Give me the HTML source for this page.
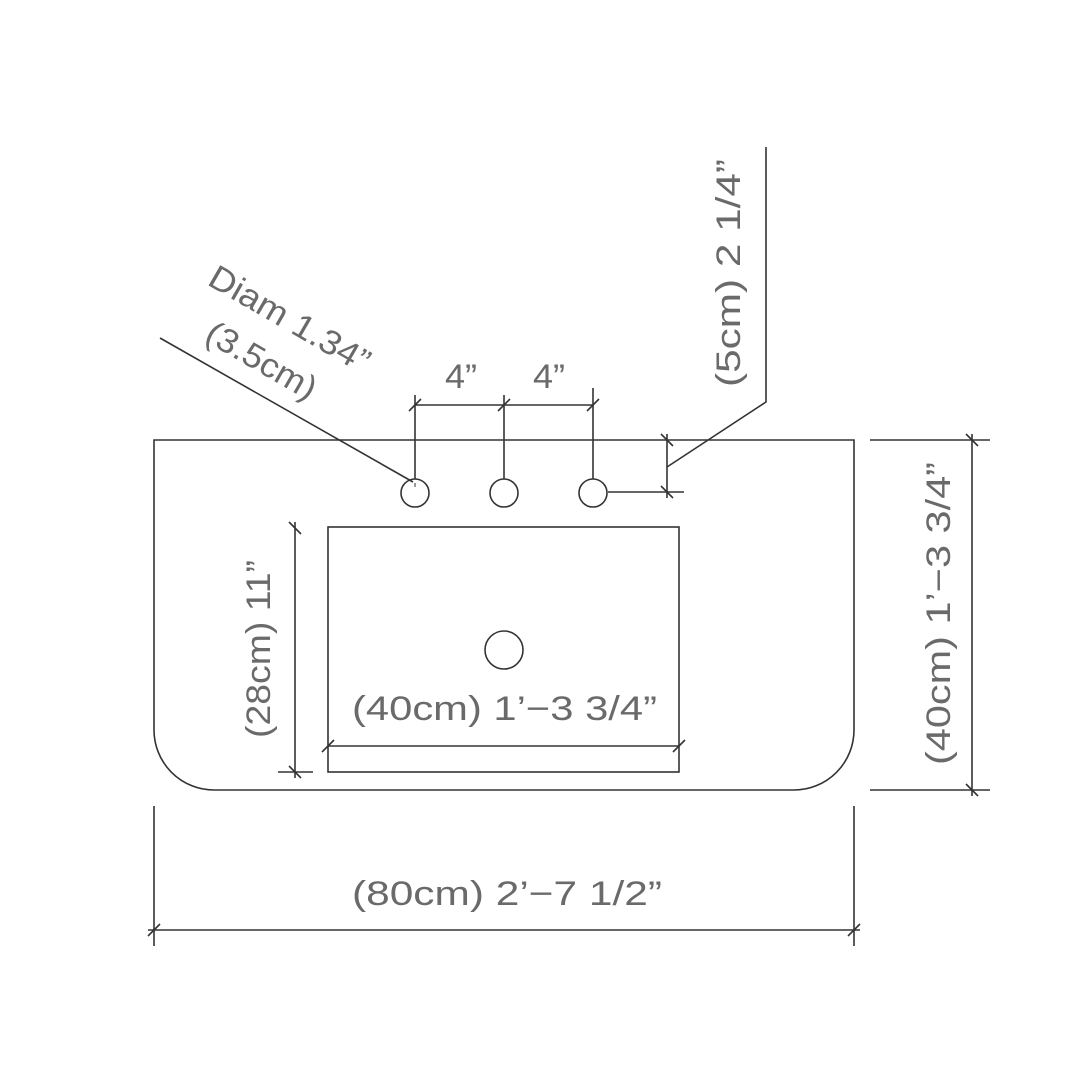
<!DOCTYPE html>
<html><head><meta charset="utf-8"><style>
html,body{margin:0;padding:0;background:#fff;}
svg{display:block}
text{font-family:"Liberation Sans",sans-serif;font-size:34px;fill:#6a6a6a;font-weight:normal;}
</style></head><body>
<svg width="1080" height="1080" viewBox="0 0 1080 1080" xmlns="http://www.w3.org/2000/svg">
<g stroke="#333" stroke-width="1.6" fill="none">
<path d="M154 440 H854 V730 A60 60 0 0 1 794 790 H214 A60 60 0 0 1 154 730 Z"/>
<circle cx="415" cy="493" r="14"/>
<circle cx="504" cy="493" r="14"/>
<circle cx="593" cy="493" r="14"/>
<rect x="328" y="527" width="351" height="245"/>
<circle cx="504" cy="650" r="19"/>
<line x1="328" y1="746" x2="679" y2="746"/>
<line x1="322" y1="752" x2="334" y2="740"/>
<line x1="673" y1="752" x2="685" y2="740"/>
<line x1="295" y1="522" x2="295" y2="778"/>
<line x1="278" y1="772" x2="313" y2="772"/>
<line x1="289" y1="766" x2="301" y2="778"/>
<line x1="289" y1="522" x2="301" y2="534"/>
<line x1="870" y1="440" x2="990" y2="440"/>
<line x1="870" y1="790" x2="990" y2="790"/>
<line x1="972" y1="434" x2="972" y2="796"/>
<line x1="966" y1="434" x2="978" y2="446"/>
<line x1="966" y1="784" x2="978" y2="796"/>
<line x1="154" y1="806" x2="154" y2="946"/>
<line x1="854" y1="806" x2="854" y2="946"/>
<line x1="148" y1="930" x2="860" y2="930"/>
<line x1="148" y1="936" x2="160" y2="924"/>
<line x1="848" y1="936" x2="860" y2="924"/>
<line x1="415" y1="479" x2="415" y2="395"/>
<line x1="504" y1="479" x2="504" y2="395"/>
<line x1="593" y1="479" x2="593" y2="388"/>
<line x1="415" y1="405" x2="593" y2="405"/>
<line x1="409" y1="411" x2="421" y2="399"/>
<line x1="498" y1="411" x2="510" y2="399"/>
<line x1="587" y1="411" x2="599" y2="399"/>
<line x1="608" y1="492" x2="684" y2="492"/>
<line x1="667" y1="434" x2="667" y2="498"/>
<line x1="661" y1="434" x2="673" y2="446"/>
<line x1="661" y1="486" x2="673" y2="498"/>
<polyline points="667,467 766,402 766,147"/>
<line x1="160" y1="338" x2="413" y2="482"/>
<line x1="415" y1="483" x2="415" y2="487" stroke-width="1"/>
</g>
<text x="352" y="720" textLength="305" lengthAdjust="spacingAndGlyphs">(40cm) 1’−3 3/4”</text>
<text x="352" y="905" textLength="310" lengthAdjust="spacingAndGlyphs" font-size="38">(80cm) 2’−7 1/2”</text>
<text x="445" y="388" textLength="32" lengthAdjust="spacingAndGlyphs">4”</text>
<text x="533" y="388" textLength="32" lengthAdjust="spacingAndGlyphs">4”</text>
<text transform="translate(270,738) rotate(-90)" textLength="178" lengthAdjust="spacingAndGlyphs" x="0" y="0">(28cm) 11”</text>
<text transform="translate(950,765) rotate(-90)" textLength="303" lengthAdjust="spacingAndGlyphs" x="0" y="0">(40cm) 1’−3 3/4”</text>
<text transform="translate(740,387) rotate(-90)" textLength="228" lengthAdjust="spacingAndGlyphs" x="0" y="0">(5cm) 2 1/4”</text>
<text transform="translate(206,284) rotate(30)" textLength="180" lengthAdjust="spacingAndGlyphs" x="0" y="0">Diam 1.34”</text>
<text transform="translate(203,340) rotate(30)" textLength="122" lengthAdjust="spacingAndGlyphs" x="0" y="0">(3.5cm)</text>
</svg>
</body></html>
